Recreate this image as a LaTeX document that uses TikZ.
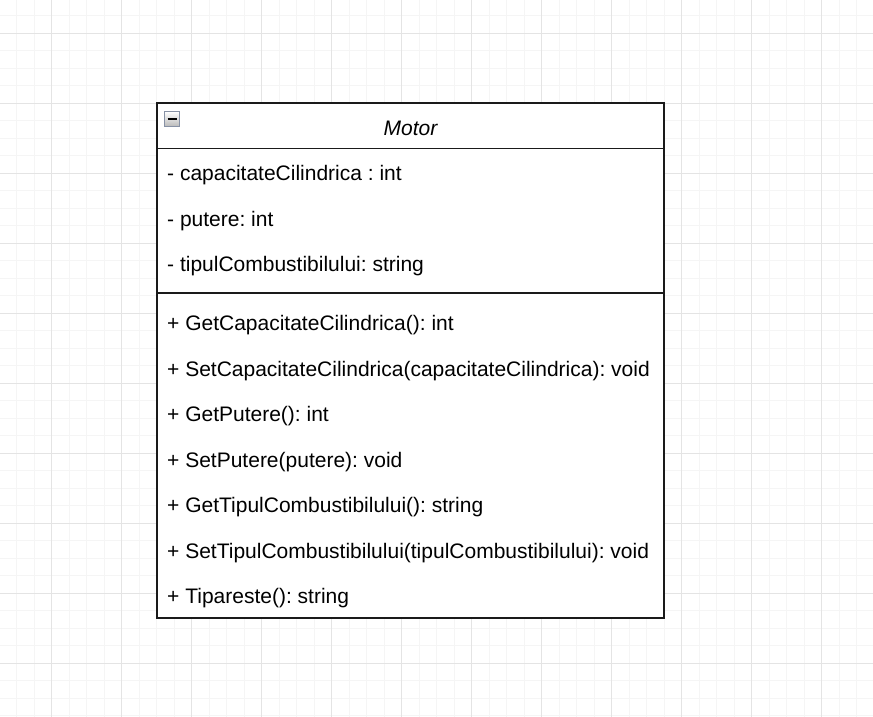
\documentclass[tikz,border=0pt]{standalone}
\usepackage{fontspec}
\setmainfont{Liberation Sans}
\frenchspacing
\begin{document}
\begin{tikzpicture}[x=1pt,y=-1pt,
  minorgrid/.style={draw={rgb,255:red,245;green,245;blue,245},line width=1pt},
  majorgrid/.style={draw={rgb,255:red,228;green,228;blue,228},line width=1pt},
  umlline/.style={draw={rgb,255:red,26;green,26;blue,26},line width=1.6pt},
  member/.style={anchor=base west,inner sep=0pt,font=\fontsize{21}{24}\selectfont}]
\useasboundingbox[fill=white] (0,0) rectangle (873,717);
% grid
\foreach \k in {0,...,50}{
  \draw[minorgrid] ({16.5+17.5*\k},0) -- ({16.5+17.5*\k},717);
  \draw[minorgrid] (0,{15.8+17.5*\k}) -- (873,{15.8+17.5*\k});
}
\foreach \k in {0,...,12}{
  \draw[majorgrid] ({51.5+70*\k},0) -- ({51.5+70*\k},717);
  \draw[majorgrid] (0,{33.3+70*\k}) -- (873,{33.3+70*\k});
}
% class box
\node[draw=none,fill=white,minimum width=507pt,minimum height=514.5pt,inner sep=0pt] (cls) at (410.5,360.5) {};
\coordinate (hl) at (157,148.5);
\coordinate (hr) at (664,148.5);
\coordinate (sl) at (157,293);
\coordinate (sr) at (664,293);
\draw[umlline] (cls.north west) rectangle (cls.south east);
\draw[umlline] (hl) -- (hr);
\draw[umlline] (sl) -- (sr);
% collapse icon
\shade[top color=white,bottom color={rgb,255:red,185;green,185;blue,185}] (164.5,111.5) rectangle (179.5,126.5);
\draw[draw={rgb,255:red,135;green,145;blue,165},line width=1.5pt] (164.5,111.5) rectangle (179.5,126.5);
\draw[line width=2.2pt,black] (167.5,119) -- (176.5,119);
\node[anchor=base,inner sep=0pt,font=\fontsize{21}{24}\selectfont\itshape] (title) at (410.5,135) {Motor};
% attributes
\node[member] (a1) at (167,180.5) {- capacitateCilindrica : int};
\node[member] (a2) at (167,226) {- putere: int};
\node[member] (a3) at (167,271.5) {- tipulCombustibilului: string};
% methods
\node[member] (m1) at (167,330.5) {+ GetCapacitateCilindrica(): int};
\node[member] (m2) at (167,376) {+ SetCapacitateCilindrica(capacitateCilindrica): void};
\node[member] (m3) at (167,421.5) {+ GetPutere(): int};
\node[member] (m4) at (167,467) {+ SetPutere(putere): void};
\node[member] (m5) at (167,512.5) {+ GetTipulCombustibilului(): string};
\node[member] (m6) at (167,558) {+ SetTipulCombustibilului(tipulCombustibilului): void};
\node[member] (m7) at (167,603.5) {+ Tipareste(): string};
\end{tikzpicture}
\end{document}
